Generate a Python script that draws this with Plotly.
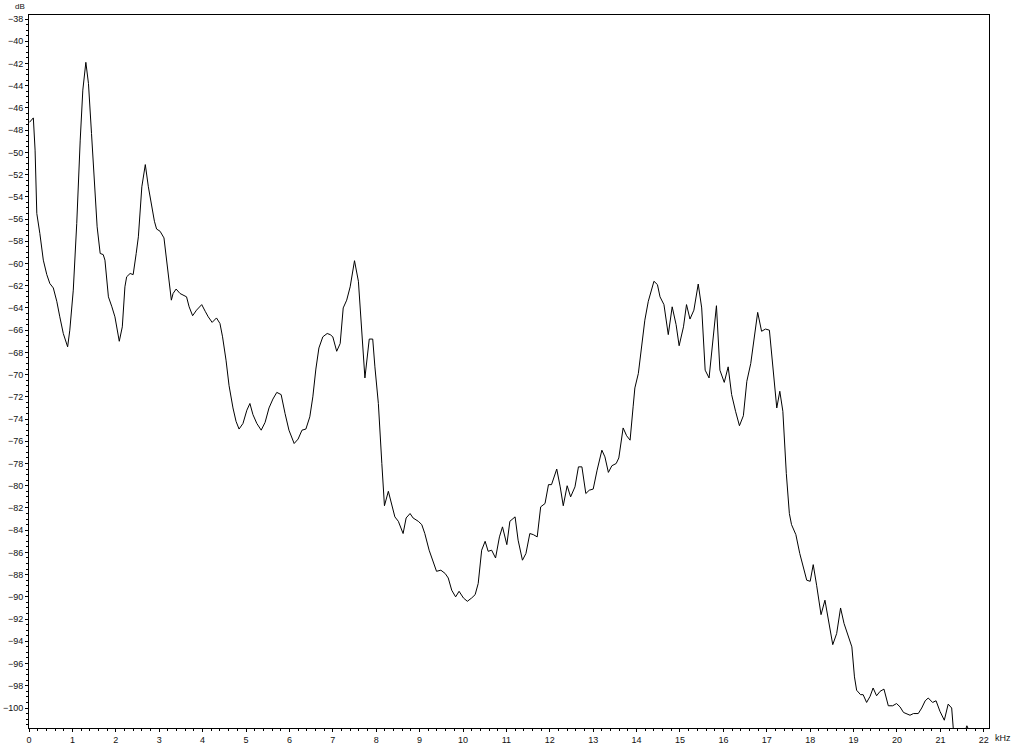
import plotly.graph_objects as go

# Frequency (kHz) and level (dB)
freq_khz = [
    0.01, 0.10, 0.14, 0.18, 0.25, 0.33, 0.41, 0.48, 0.56, 0.64, 0.71, 0.79, 0.89, 0.94,
    1.02, 1.10, 1.18, 1.24, 1.31, 1.37, 1.44, 1.52, 1.57, 1.64, 1.71, 1.75, 1.83, 1.91,
    1.98, 2.08, 2.15, 2.21, 2.25, 2.33, 2.40, 2.47, 2.52, 2.60, 2.68, 2.75, 2.83, 2.89,
    2.94, 3.02, 3.11, 3.17, 3.23, 3.28, 3.32, 3.39, 3.48, 3.56, 3.63, 3.69, 3.77, 3.86,
    3.98, 4.06, 4.13, 4.22, 4.32, 4.40, 4.46, 4.54, 4.61, 4.70, 4.77, 4.84, 4.93, 5.02,
    5.09, 5.16, 5.25, 5.35, 5.44, 5.53, 5.62, 5.71, 5.81, 5.90, 5.99, 6.11, 6.20, 6.29,
    6.38, 6.47, 6.54, 6.61, 6.68, 6.77, 6.87, 6.94, 7.00, 7.09, 7.17, 7.24, 7.32, 7.40,
    7.50, 7.59, 7.67, 7.74, 7.84, 7.92, 7.97, 8.05, 8.13, 8.19, 8.28, 8.36, 8.43, 8.51,
    8.62, 8.69, 8.78, 8.85, 8.97, 9.05, 9.12, 9.22, 9.32, 9.39, 9.49, 9.59, 9.66, 9.74,
    9.83, 9.91, 10.01, 10.10, 10.20, 10.28, 10.35, 10.43, 10.51, 10.58, 10.66, 10.75,
    10.84, 10.91, 11.01, 11.08, 11.20, 11.27, 11.37, 11.45, 11.54, 11.62, 11.71, 11.79,
    11.89, 11.97, 12.04, 12.16, 12.24, 12.31, 12.40, 12.48, 12.58, 12.66, 12.74, 12.83,
    12.91, 13.00, 13.09, 13.20, 13.27, 13.35, 13.43, 13.53, 13.59, 13.69, 13.77, 13.85,
    13.92, 13.96, 14.04, 14.12, 14.19, 14.27, 14.33, 14.40, 14.48, 14.54, 14.63, 14.73,
    14.82, 14.91, 14.98, 15.08, 15.15, 15.23, 15.32, 15.42, 15.50, 15.58, 15.67, 15.75,
    15.84, 15.92, 16.02, 16.11, 16.19, 16.28, 16.37, 16.46, 16.54, 16.63, 16.71, 16.79,
    16.88, 16.97, 17.06, 17.14, 17.23, 17.30, 17.37, 17.45, 17.52, 17.57, 17.67, 17.76,
    17.86, 17.92, 18.00, 18.07, 18.15, 18.25, 18.34, 18.42, 18.52, 18.61, 18.70, 18.78,
    18.86, 18.96, 19.02, 19.07, 19.16, 19.22, 19.30, 19.38, 19.45, 19.53, 19.61, 19.70,
    19.80, 19.90, 19.99, 20.07, 20.15, 20.22, 20.30, 20.38, 20.49, 20.57, 20.65, 20.72,
    20.82, 20.90, 20.99, 21.09, 21.18, 21.26, 21.31, 21.41, 21.52, 21.61, 21.68, 21.80,
    22.03,
]

level_db = [
    -47.3, -46.9, -49.8, -55.5, -57.3, -59.7, -61.0, -61.8, -62.2, -63.4, -64.8, -66.3, -67.5, -66.0,
    -62.4, -56.4, -48.9, -44.4, -41.9, -43.8, -48.3, -53.4, -56.7, -59.1, -59.2, -59.7, -63.0, -63.9,
    -64.8, -67.0, -65.7, -62.1, -61.2, -60.9, -61.0, -59.1, -57.6, -53.1, -51.1, -53.1, -54.9, -56.2,
    -56.9, -57.1, -57.7, -59.7, -61.5, -63.3, -62.7, -62.3, -62.7, -62.9, -63.0, -63.9, -64.7, -64.2,
    -63.7, -64.3, -64.8, -65.3, -64.9, -65.4, -66.6, -68.7, -71.0, -73.0, -74.2, -74.9, -74.4, -73.2,
    -72.6, -73.6, -74.4, -75.0, -74.3, -73.0, -72.2, -71.6, -71.8, -73.5, -75.0, -76.2, -75.8, -75.0,
    -74.9, -73.8, -72.0, -69.5, -67.6, -66.6, -66.3, -66.4, -66.6, -67.9, -67.2, -64.0, -63.3, -62.1,
    -59.75, -61.6, -66.6, -70.3, -66.8, -66.8, -69.3, -72.6, -78.0, -81.8, -80.5, -81.7, -82.8, -83.2,
    -84.3, -82.9, -82.5, -82.9, -83.2, -83.5, -84.3, -85.8, -87.0, -87.7, -87.6, -87.9, -88.3, -89.4,
    -90.0, -89.5, -90.1, -90.4, -90.1, -89.8, -88.8, -85.8, -85.0, -85.9, -85.8, -86.5,
    -84.6, -83.7, -85.3, -83.2, -82.8, -84.9, -86.7, -86.1, -84.3, -84.4, -84.6, -81.9,
    -81.6, -79.9, -79.9, -78.5, -80.1, -81.8, -80.0, -81.0, -80.1, -78.3, -78.3, -80.7,
    -80.4, -80.3, -78.6, -76.8, -77.4, -78.8, -78.2, -78.0, -77.5, -74.8, -75.5, -75.9,
    -72.9, -71.2, -69.9, -67.3, -65.1, -63.4, -62.5, -61.6, -61.9, -63.0, -63.7, -66.4,
    -63.9, -65.5, -67.4, -65.7, -63.7, -65.0, -64.2, -61.85, -64.0, -69.6, -70.3, -67.2,
    -63.8, -69.6, -70.7, -69.3, -71.8, -73.3, -74.6, -73.7, -70.6, -69.0, -66.5, -64.4,
    -66.1, -65.9, -66.0, -69.6, -73.0, -71.5, -73.3, -78.9, -82.5, -83.5, -84.4, -86.1,
    -87.6, -88.5, -88.6, -87.1, -89.0, -91.6, -90.3, -92.1, -94.3, -93.3, -91.0, -92.4,
    -93.3, -94.5, -97.2, -98.4, -98.8, -98.8, -99.5, -98.95, -98.2, -98.9, -98.5, -98.3,
    -99.8, -99.8, -99.6, -99.9, -100.4, -100.5, -100.65, -100.5, -100.5, -100.0, -99.35, -99.1,
    -99.5, -99.35, -100.3, -101.1, -99.65, -100.0, -102.5, -104.0, -102.6, -101.6, -102.2, -104.0,
    -105.0,
]

x_range = [0, 22.12]
y_range = [-101.8, -37.64]

FONT = "Liberation Sans Narrow, Liberation Sans, Arial, sans-serif"

fig = go.Figure()
fig.add_trace(go.Scatter(
    x=freq_khz, y=level_db, mode="lines",
    line=dict(color="black", width=1),
    showlegend=False, hoverinfo="skip",
))

axis_common = dict(
    showline=True, mirror=True, linecolor="black", linewidth=1,
    showgrid=False, zeroline=False, automargin=False,
    ticks="outside", tickcolor="black", tickwidth=1, ticklen=3,
    tickfont=dict(family=FONT, size=9, color="#111"),
)

fig.update_xaxes(
    range=x_range, tick0=0, dtick=1, **axis_common,
    minor=dict(dtick=0.2, tick0=0, ticks="outside", ticklen=2, tickcolor="black", tickwidth=1, showgrid=False),
)
fig.update_yaxes(
    range=y_range, tick0=-38, dtick=2, **axis_common,
    minor=dict(dtick=0.5, tick0=-38, ticks="outside", ticklen=2, tickcolor="black", tickwidth=1, showgrid=False),
)

fig.add_annotation(
    text="dB", xref="paper", yref="paper", x=0, y=1,
    xanchor="right", yanchor="bottom", xshift=-2, yshift=2, showarrow=False,
    font=dict(family=FONT, size=8, color="#111"),
)
fig.add_annotation(
    text="kHz", xref="x", yref="paper", x=22, y=0,
    xanchor="left", yanchor="top", xshift=9, yshift=-3, showarrow=False,
    font=dict(family=FONT, size=9, color="#111"),
)

fig.update_layout(
    width=1024, height=745,
    margin=dict(l=29, r=35, t=15, b=17, pad=0, autoexpand=False),
    plot_bgcolor="white", paper_bgcolor="white",
)

fig.write_html(
    "out.html",
    config={"displayModeBar": False, "staticPlot": True},
    post_script="document.body.style.margin='0';document.body.style.overflow='hidden';",
)
